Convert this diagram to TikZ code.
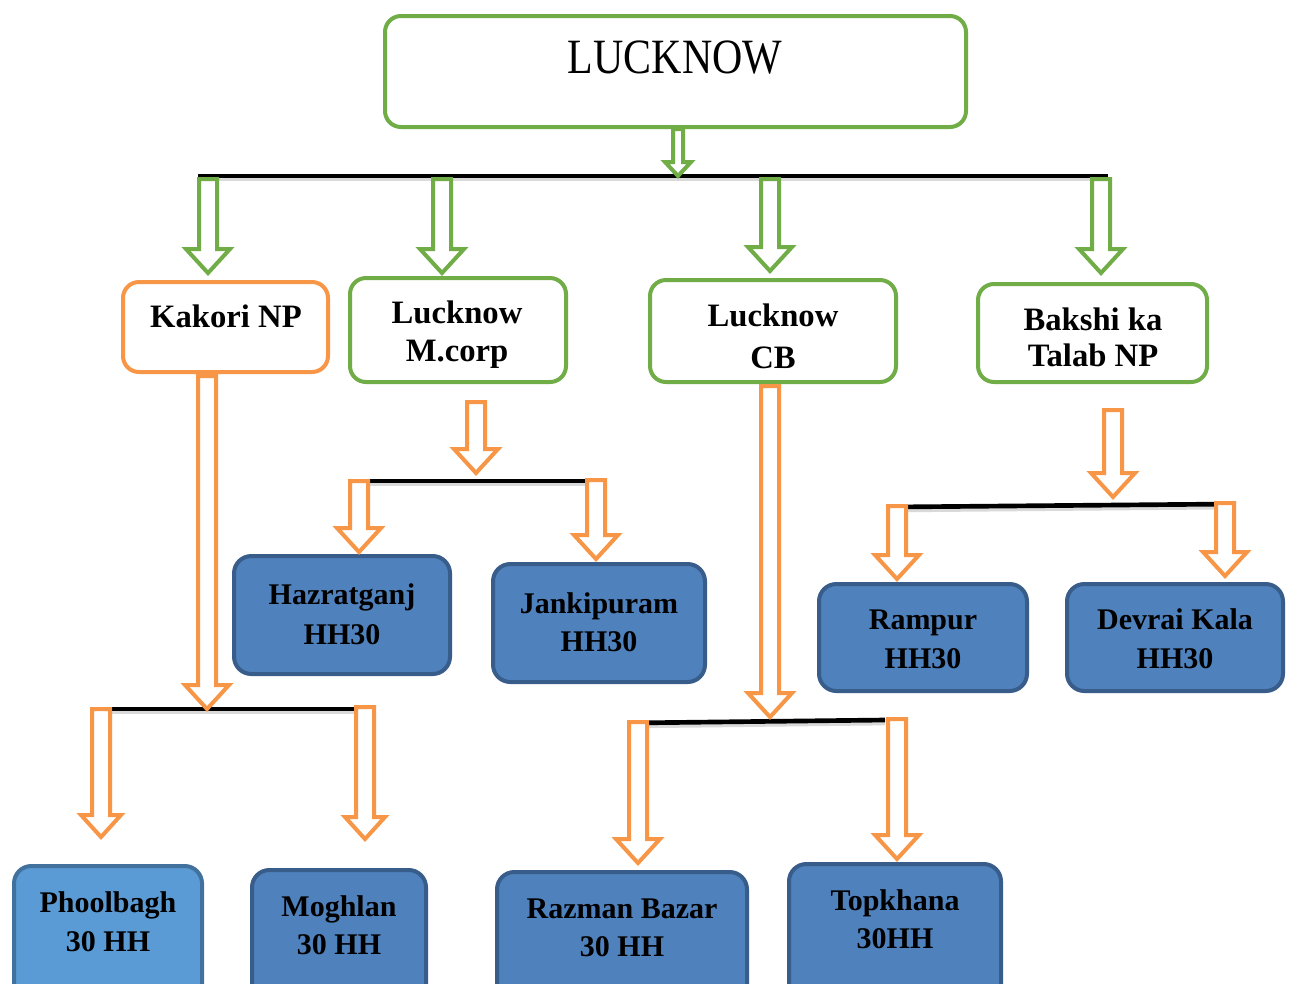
\documentclass[tikz,border=0pt]{standalone}
\usepackage{fontspec}
\setmainfont{Liberation Serif}
\usetikzlibrary{fit}
\definecolor{grn}{HTML}{70AD47}
\definecolor{org}{HTML}{F79646}
\definecolor{bfill}{HTML}{4F81BD}
\definecolor{bdraw}{HTML}{385D8A}
\definecolor{lfill}{HTML}{5B9BD5}
\definecolor{ldraw}{HTML}{41719C}
% #1 colour, #2 x, #3 y top, #4 y tip, #5 shaft half width, #6 head half width, #7 head length
\newcommand\blkarrow[7]{\draw[#1, line width=3pt, fill=white, line join=miter, miter limit=10]
  (#2-#5,#3) -- (#2+#5,#3) -- (#2+#5,#4-#7) -- (#2+#6,#4-#7) -- (#2,#4) -- (#2-#6,#4-#7) -- (#2-#5,#4-#7) -- cycle;}
\tikzset{
  gbox/.style={draw=grn, line width=3pt, rounded corners=12pt, fill=white, inner sep=0pt},
  obox/.style={draw=org, line width=3pt, rounded corners=12pt, fill=white, inner sep=0pt},
  bbox/.style={draw=bdraw, line width=3pt, rounded corners=13pt, fill=bfill, inner sep=0pt},
  lbox/.style={draw=ldraw, line width=3pt, rounded corners=13pt, fill=lfill, inner sep=0pt},
  big/.style={font=\fontsize{24.5}{29}\selectfont\bfseries, anchor=base, inner sep=0pt},
  small/.style={font=\fontsize{22.5}{27}\selectfont\bfseries, anchor=base, inner sep=0pt},
  bar/.style={line width=3.5pt, black},
  barshadow/.style={line width=3pt, black!15},
}
\begin{document}
\begin{tikzpicture}[x=0.75pt,y=-0.75pt]
\useasboundingbox (0,0) rectangle (1291,983);
\clip (0,0) rectangle (1291,983);
\fill[white] (0,0) rectangle (1291,983);

% boxes
\node[gbox, fit={(385,16)(966,127)}] (top) {};
\node[anchor=base, inner sep=0pt, font=\fontsize{37}{44}\selectfont] (top-t) at (675,73) {\scalebox{0.85}[1]{LUCKNOW}};

\node[obox, fit={(123,282)(328,372)}] (kak) {};
\node[big] (kak-t) at (226,327) {Kakori NP};

\node[gbox, fit={(350,278)(566,382)}] (mcp) {};
\node[big] (mcp-t1) at (457,323) {Lucknow};
\node[big] (mcp-t2) at (457,361) {M.corp};

\node[gbox, fit={(650,280)(896,382)}] (cb) {};
\node[big] (cb-t1) at (773,326) {Lucknow};
\node[big] (cb-t2) at (773,368) {CB};

\node[gbox, fit={(978,284)(1207,382)}] (bak) {};
\node[big] (bak-t1) at (1093,330) {Bakshi ka};
\node[big] (bak-t2) at (1093,366) {Talab NP};

\node[bbox, fit={(234,556)(450,674)}] (haz) {};
\node[small] (haz-t1) at (342,604) {Hazratganj};
\node[small] (haz-t2) at (342,644) {HH30};

\node[bbox, fit={(493,564)(705,682)}] (jan) {};
\node[small] (jan-t1) at (599,613) {Jankipuram};
\node[small] (jan-t2) at (599,651) {HH30};

\node[bbox, fit={(819,584)(1027,691)}] (ram) {};
\node[small] (ram-t1) at (923,629) {Rampur};
\node[small] (ram-t2) at (923,668) {HH30};

\node[bbox, fit={(1067,584)(1283,691)}] (dev) {};
\node[small] (dev-t1) at (1175,629) {Devrai Kala};
\node[small] (dev-t2) at (1175,668) {HH30};

\node[lbox, fit={(14,866)(202,1010)}] (phb) {};
\node[small] (phb-t1) at (108,912) {Phoolbagh};
\node[small] (phb-t2) at (108,951) {30 HH};

\node[bbox, fit={(252,870)(426,1010)}] (mog) {};
\node[small] (mog-t1) at (339,916) {Moghlan};
\node[small] (mog-t2) at (339,954) {30 HH};

\node[bbox, fit={(497,872)(747,1010)}] (raz) {};
\node[small] (raz-t1) at (622,918) {Razman Bazar};
\node[small] (raz-t2) at (622,956) {30 HH};

\node[bbox, fit={(789,864)(1001,1010)}] (tkh) {};
\node[small] (tkh-t1) at (895,910) {Topkhana};
\node[small] (tkh-t2) at (895,948) {30HH};

% bars
\coordinate (b0l) at (198,176); \coordinate (b0r) at (1108,176);
\coordinate (b1l) at (92,709);  \coordinate (b1r) at (355,709);
\coordinate (b2l) at (350,481); \coordinate (b2r) at (605,481);
\coordinate (b3l) at (628,723); \coordinate (b3r) at (885,720);
\coordinate (b4l) at (893,507); \coordinate (b4r) at (1232,504);
\foreach \a/\b in {b0l/b0r,b1l/b1r,b2l/b2r,b3l/b3r,b4l/b4r}{
  \draw[barshadow] ([yshift=-2.5pt]\a) -- ([yshift=-2.5pt]\b);
  \draw[bar] (\a) -- (\b);
}

% green arrows
\blkarrow{grn}{678}{129}{176}{5}{13}{14}
\blkarrow{grn}{208}{179}{273}{9}{22}{24}
\blkarrow{grn}{442}{179}{273}{9}{22}{24}
\blkarrow{grn}{770}{179}{271}{9}{22}{24}
\blkarrow{grn}{1101}{179}{273}{9}{22}{24}

% orange arrows
\blkarrow{org}{207}{376}{709}{9}{22}{24}
\blkarrow{org}{101}{709}{837}{9}{20}{22}
\blkarrow{org}{365}{707}{839}{9}{20}{22}
\blkarrow{org}{476}{402}{473}{9}{22}{24}
\blkarrow{org}{359}{481}{552}{9}{22}{24}
\blkarrow{org}{596}{480}{559}{9}{22}{24}
\blkarrow{org}{770}{386}{717}{9}{22}{24}
\blkarrow{org}{638}{722}{863}{9}{22}{24}
\blkarrow{org}{897}{719}{859}{9}{22}{24}
\blkarrow{org}{1113}{410}{497}{9}{22}{24}
\blkarrow{org}{897}{506}{579}{9}{22}{24}
\blkarrow{org}{1225}{503}{576}{9}{22}{24}
\end{tikzpicture}
\end{document}
